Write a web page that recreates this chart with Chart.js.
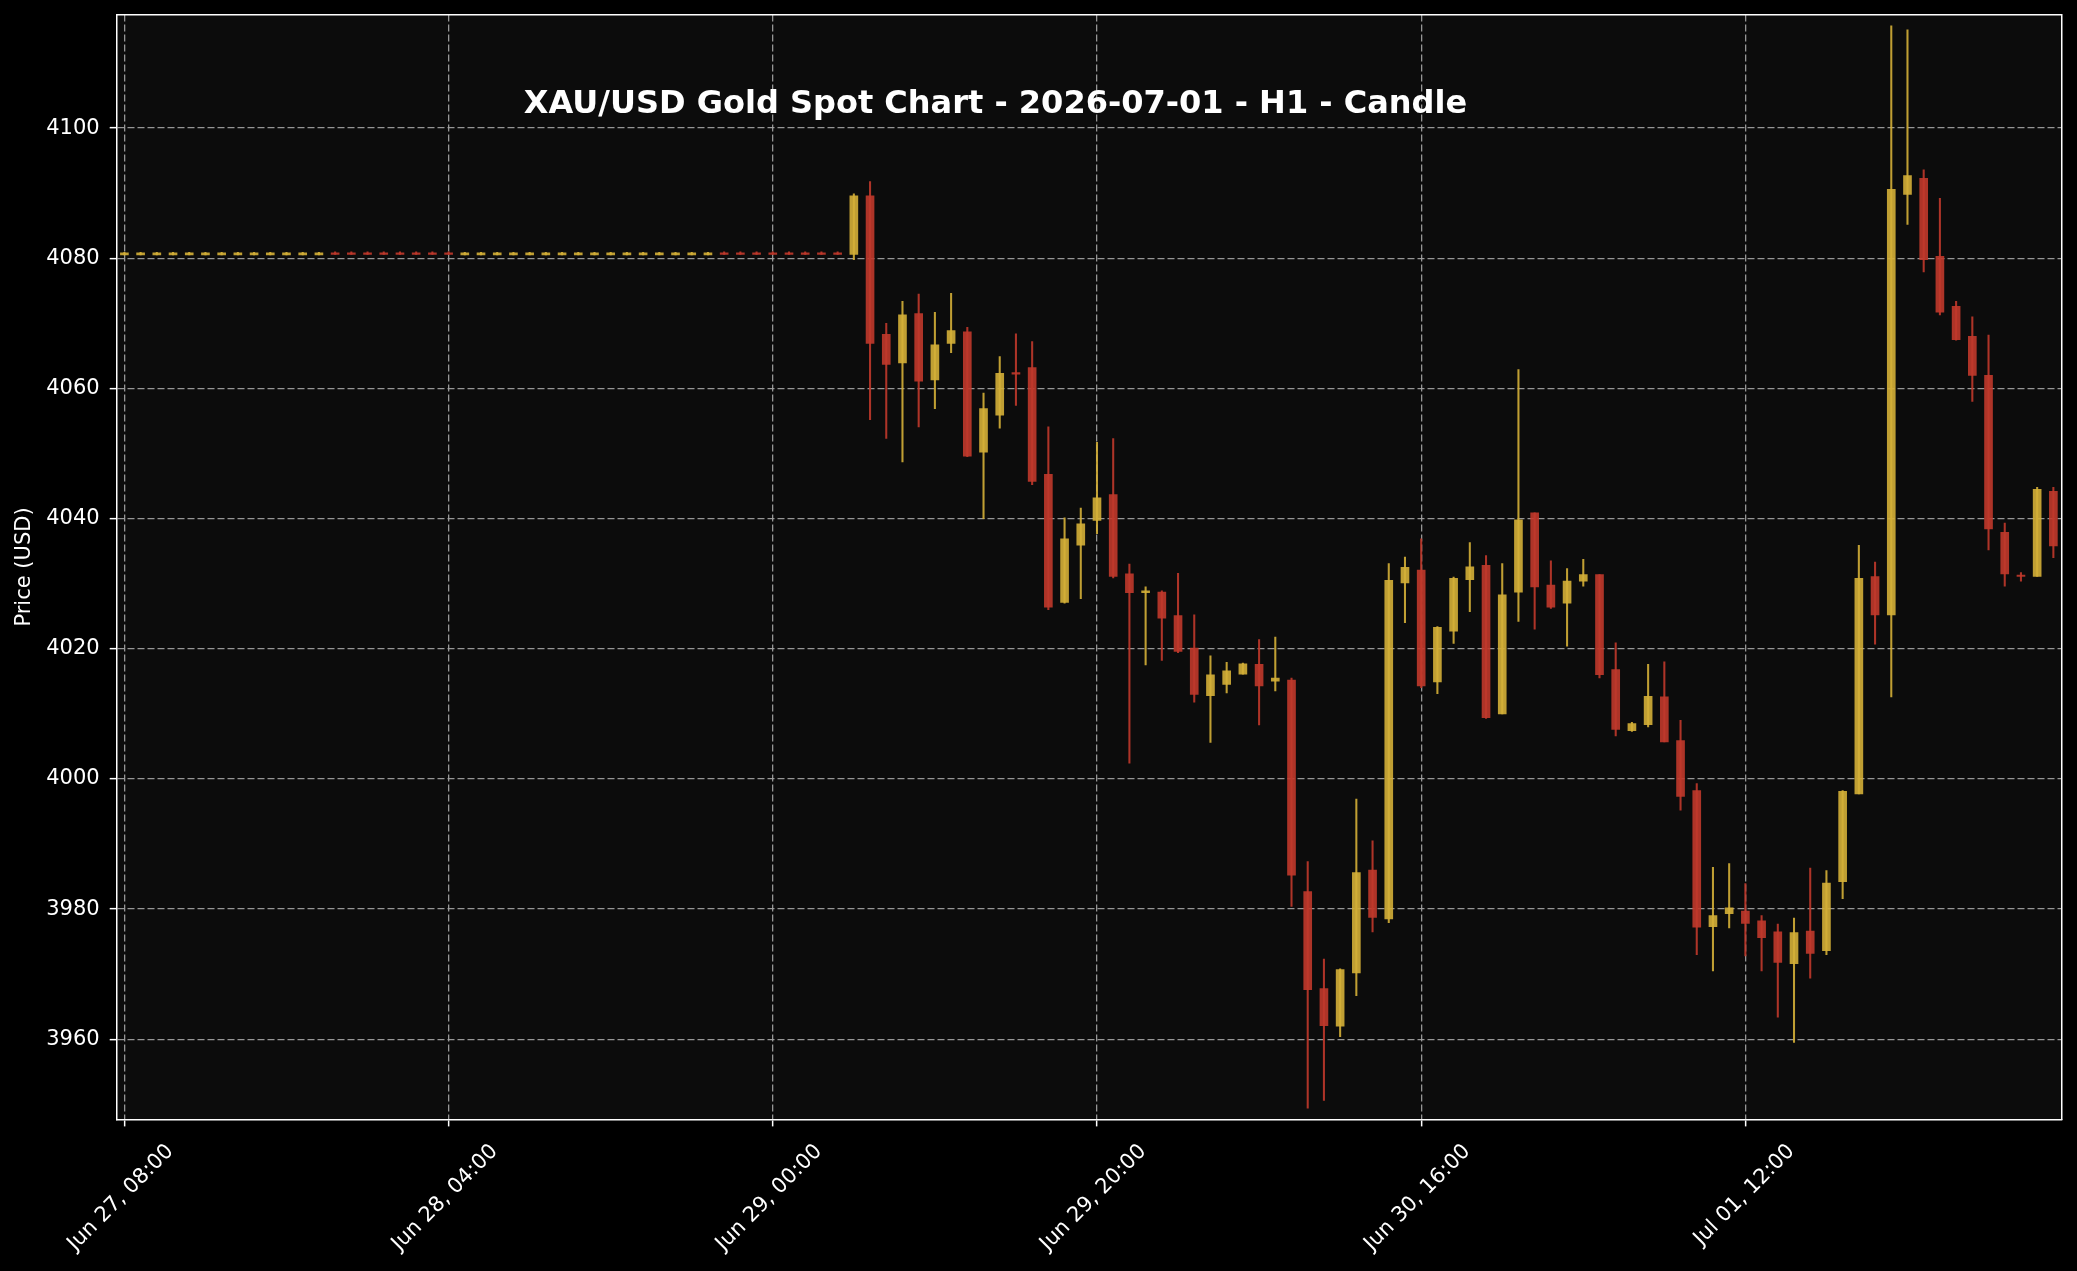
<!DOCTYPE html>
<html>
<head>
<meta charset="utf-8">
<script src="https://cdn.jsdelivr.net/npm/chart.js@4.4.1/dist/chart.umd.min.js"></script>
<style>
html,body{margin:0;padding:0;background:#000;}
canvas{display:block;}
</style>
</head>
<body>
<canvas id="c" width="2077" height="1271"></canvas>
<script>
// ---- Data (hourly candles, index 0 = Jun 27 08:00) ----
const titleText = 'XAU/USD Gold Spot Chart - 2026-07-01 - H1 - Candle';
const yAxisTitle = 'Price (USD)';

const xTickPositions = [0, 20, 40, 60, 80, 100];
const xTickLabels = ['Jun 27, 08:00', 'Jun 28, 04:00', 'Jun 29, 00:00', 'Jun 29, 20:00', 'Jun 30, 16:00', 'Jul 01, 12:00'];
const yTickValues = [3960, 3980, 4000, 4020, 4040, 4060, 4080, 4100];

const opens = [
  4080.5, 4080.5, 4080.5, 4080.5, 4080.5, 4080.5, 4080.5, 4080.5, 4080.5, 4080.5,
  4080.5, 4080.5, 4080.5, 4080.75, 4080.75, 4080.75, 4080.75, 4080.75, 4080.75, 4080.75,
  4080.75, 4080.5, 4080.5, 4080.5, 4080.5, 4080.5, 4080.5, 4080.5, 4080.5, 4080.5,
  4080.5, 4080.5, 4080.5, 4080.5, 4080.5, 4080.5, 4080.5, 4080.75, 4080.75, 4080.75,
  4080.75, 4080.75, 4080.75, 4080.75, 4080.75, 4080.6, 4089.6, 4068.3, 4063.9, 4071.5,
  4061.3, 4066.9, 4068.7, 4050.2, 4055.9, 4062.4, 4063.2, 4046.8, 4027.1, 4035.9,
  4039.7, 4043.7, 4031.5, 4028.6, 4028.7, 4025.1, 4020.1, 4012.8, 4014.5, 4016.1,
  4017.6, 4015.0, 4015.2, 3982.7, 3967.8, 3962.0, 3970.2, 3986.0, 3978.5, 4030.1,
  4032.1, 4014.9, 4022.7, 4030.6, 4032.8, 4010.0, 4028.7, 4040.9, 4029.8, 4027.0,
  4030.4, 4031.4, 4016.8, 4007.4, 4008.35, 4012.6, 4005.9, 3998.2, 3977.3, 3979.3,
  3979.7, 3978.2, 3976.5, 3971.6, 3976.6, 3973.6, 3984.2, 3997.7, 4031.1, 4025.2,
  4089.8, 4092.3, 4080.3, 4072.6, 4068.0, 4062.0, 4037.9, 4031.3, 4031.1, 4044.2
];
const highs = [
  4080.9, 4080.9, 4080.9, 4080.9, 4080.9, 4080.9, 4080.9, 4080.9, 4080.9, 4080.9,
  4080.9, 4080.9, 4080.9, 4081.0, 4081.0, 4081.0, 4081.0, 4081.0, 4081.0, 4081.0,
  4081.0, 4080.9, 4080.9, 4080.9, 4080.9, 4080.9, 4080.9, 4080.9, 4080.9, 4080.9,
  4080.9, 4080.9, 4080.9, 4080.9, 4080.9, 4080.9, 4080.9, 4081.0, 4081.0, 4081.0,
  4081.0, 4081.0, 4081.0, 4081.0, 4081.0, 4089.9, 4091.8, 4070.0, 4073.4, 4074.5,
  4071.7, 4074.6, 4069.4, 4059.3, 4064.9, 4068.4, 4067.2, 4054.1, 4040.1, 4041.6,
  4051.7, 4052.3, 4033.0, 4029.5, 4028.9, 4031.6, 4025.2, 4018.9, 4017.9, 4017.8,
  4021.4, 4021.8, 4015.5, 3987.3, 3972.3, 3970.8, 3996.9, 3990.5, 4033.1, 4034.1,
  4036.9, 4023.4, 4031.0, 4036.3, 4034.3, 4033.1, 4062.9, 4040.9, 4033.5, 4032.3,
  4033.75, 4031.4, 4020.9, 4008.7, 4017.6, 4018.0, 4009.0, 3999.3, 3986.4, 3987.0,
  3983.9, 3979.0, 3977.7, 3978.6, 3986.3, 3985.9, 3998.2, 4035.9, 4033.3, 4115.7,
  4115.1, 4093.6, 4089.2, 4073.4, 4071.0, 4068.2, 4039.3, 4031.7, 4044.8, 4044.8
];
const lows = [
  4080.5, 4080.5, 4080.5, 4080.5, 4080.5, 4080.5, 4080.5, 4080.5, 4080.5, 4080.5,
  4080.5, 4080.5, 4080.5, 4080.6, 4080.6, 4080.6, 4080.6, 4080.6, 4080.6, 4080.6,
  4080.6, 4080.5, 4080.5, 4080.5, 4080.5, 4080.5, 4080.5, 4080.5, 4080.5, 4080.5,
  4080.5, 4080.5, 4080.5, 4080.5, 4080.5, 4080.5, 4080.5, 4080.6, 4080.6, 4080.6,
  4080.6, 4080.6, 4080.6, 4080.6, 4080.6, 4079.8, 4055.2, 4052.3, 4048.7, 4054.1,
  4056.9, 4065.5, 4049.5, 4040.0, 4053.9, 4057.4, 4045.2, 4026.0, 4027.0, 4027.7,
  4037.7, 4030.9, 4002.4, 4017.5, 4018.2, 4019.4, 4011.8, 4005.6, 4013.2, 4016.1,
  4008.3, 4013.5, 3980.4, 3949.4, 3950.6, 3960.4, 3966.7, 3976.5, 3977.9, 4024.0,
  4014.0, 4013.1, 4020.8, 4025.7, 4009.3, 4010.0, 4024.2, 4023.0, 4026.2, 4020.4,
  4029.6, 4015.5, 4006.6, 4007.3, 4008.0, 4005.7, 3995.2, 3973.0, 3970.5, 3977.1,
  3972.8, 3970.5, 3963.4, 3959.5, 3969.4, 3973.0, 3981.6, 3997.7, 4020.7, 4012.6,
  4085.2, 4077.9, 4071.3, 4067.4, 4058.0, 4035.2, 4029.6, 4030.4, 4031.1, 4034.0
];
const closes = [
  4080.85, 4080.85, 4080.85, 4080.85, 4080.85, 4080.85, 4080.85, 4080.85, 4080.85, 4080.85,
  4080.85, 4080.85, 4080.85, 4080.6, 4080.6, 4080.6, 4080.6, 4080.6, 4080.6, 4080.6,
  4080.6, 4080.85, 4080.85, 4080.85, 4080.85, 4080.85, 4080.85, 4080.85, 4080.85, 4080.85,
  4080.85, 4080.85, 4080.85, 4080.85, 4080.85, 4080.85, 4080.85, 4080.6, 4080.6, 4080.6,
  4080.6, 4080.6, 4080.6, 4080.6, 4080.6, 4089.6, 4066.9, 4063.7, 4071.3, 4061.1,
  4066.7, 4068.9, 4049.6, 4056.9, 4062.3, 4062.2, 4045.7, 4026.4, 4036.9, 4039.2,
  4043.2, 4031.1, 4028.6, 4028.9, 4024.7, 4019.6, 4013.0, 4016.0, 4016.6, 4017.7,
  4014.3, 4015.5, 3985.2, 3967.6, 3962.1, 3970.7, 3985.6, 3978.7, 4030.5, 4032.5,
  4014.3, 4023.3, 4030.8, 4032.6, 4009.4, 4028.3, 4039.8, 4029.5, 4026.4, 4030.4,
  4031.4, 4016.0, 4007.6, 4008.5, 4012.7, 4005.7, 3997.3, 3977.2, 3979.0, 3980.2,
  3977.8, 3975.6, 3971.8, 3976.4, 3973.2, 3984.0, 3998.1, 4030.8, 4025.2, 4090.6,
  4092.7, 4079.8, 4071.7, 4067.5, 4062.0, 4038.4, 4031.5, 4031.1, 4044.5, 4035.8
];

// ---- Styling ----
const GOLD = 'rgba(212,175,55,0.9)';
const RED = 'rgba(192,57,43,0.9)';
const GRID = 'rgba(165,165,165,0.9)';
const FONT = 'DejaVu Sans';

const isUp = i => closes[i] >= opens[i];
const candleColor = ctx => isUp(ctx.dataIndex) ? GOLD : RED;

const wickData = highs.map((h, i) => ({ x: i, y: [lows[i], h] }));
const bodyData = closes.map((c, i) => ({ x: i, y: [opens[i], c] }));

const bgPlugin = {
  id: 'bg',
  beforeDraw(chart) {
    const { ctx, chartArea: a } = chart;
    ctx.save();
    ctx.fillStyle = '#000';
    ctx.fillRect(0, 0, chart.width, chart.height);
    ctx.fillStyle = '#0c0c0c';
    ctx.fillRect(a.left, a.top, a.right - a.left, a.bottom - a.top);
    ctx.restore();
  }
};

const titlePlugin = {
  id: 'insideTitle',
  afterDraw(chart) {
    const { ctx, chartArea: a } = chart;
    ctx.save();
    ctx.font = 'bold 32px "' + FONT + '"';
    ctx.fillStyle = '#ffffff';
    ctx.textAlign = 'center';
    ctx.textBaseline = 'alphabetic';
    ctx.fillText(titleText, a.left + (a.right - a.left) * 0.4518, a.top + 98);
    ctx.restore();
  }
};

const noPad = s => { s.paddingTop = 0; s.paddingBottom = 0; s.paddingLeft = 0; s.paddingRight = 0; };

new Chart(document.getElementById('c'), {
  type: 'bar',
  data: {
    datasets: [
      { label: 'wick', data: wickData, backgroundColor: candleColor, barThickness: 1.4, grouped: false, order: 2, borderWidth: 0 },
      { label: 'body', data: bodyData, backgroundColor: candleColor, barThickness: 8, minBarLength: 1.5, grouped: false, order: 1, borderWidth: 0 }
    ]
  },
  options: {
    responsive: false,
    animation: false,
    devicePixelRatio: 1,
    layout: { padding: { top: 14.6, right: 15.2, bottom: 0, left: 0 } },
    plugins: { legend: { display: false }, tooltip: { enabled: false }, title: { display: false } },
    scales: {
      x: {
        type: 'linear', position: 'bottom', min: -0.475, max: 119.52, offset: false,
        afterBuildTicks: s => { s.ticks = xTickPositions.map(v => ({ value: v })); },
        afterFit: s => { s.height = 151.6; noPad(s); },
        ticks: {
          autoSkip: false, maxRotation: 45, minRotation: 45,
          color: '#ffffff', font: { family: FONT, size: 21 },
          padding: 13, labelOffset: 46,
          callback: v => { const k = xTickPositions.indexOf(v); return k >= 0 ? xTickLabels[k] : ''; }
        },
        grid: { offset: false, color: GRID, lineWidth: 1.3, tickColor: '#ffffff', tickLength: 7, tickWidth: 1.5, tickBorderDash: [] },
        border: { color: '#ffffff', width: 1.5, dash: [7, 3] }
      },
      y: {
        type: 'linear', position: 'left', min: 3947.68, max: 4117.44, beginAtZero: false,
        afterBuildTicks: s => { s.ticks = yTickValues.map(v => ({ value: v })); },
        afterFit: s => { s.width = 116.7; noPad(s); },
        ticks: { color: '#ffffff', font: { family: FONT, size: 21 }, padding: 10, callback: v => String(v) },
        grid: { color: GRID, lineWidth: 1.3, tickColor: '#ffffff', tickLength: 7, tickWidth: 1.5, tickBorderDash: [] },
        border: { color: '#ffffff', width: 1.5, dash: [7, 3] },
        title: { display: true, text: yAxisTitle, color: '#ffffff', font: { family: FONT, size: 21 }, padding: { top: 12, bottom: 0 } }
      },
      xTop: {
        type: 'linear', position: 'top', display: true,
        ticks: { display: false }, grid: { drawOnChartArea: false, drawTicks: false },
        border: { color: '#ffffff', width: 1.5 },
        afterFit: s => { s.height = 0; noPad(s); }
      },
      yRight: {
        type: 'linear', position: 'right', display: true,
        ticks: { display: false }, grid: { drawOnChartArea: false, drawTicks: false },
        border: { color: '#ffffff', width: 1.5 },
        afterFit: s => { s.width = 0; noPad(s); }
      }
    }
  },
  plugins: [bgPlugin, titlePlugin]
});
</script>
</body>
</html>
